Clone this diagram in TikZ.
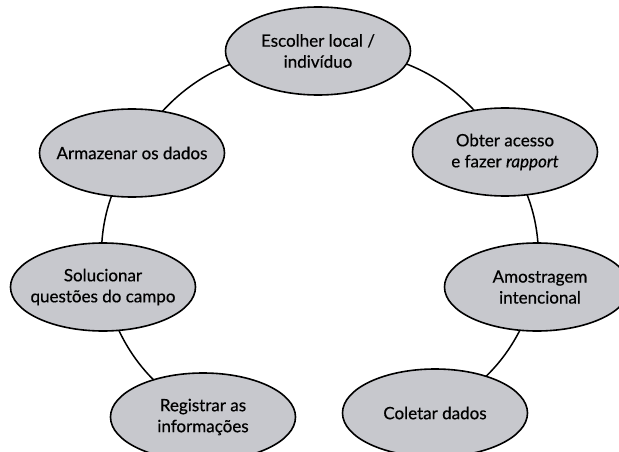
\documentclass[tikz,border=0pt]{standalone}
\usepackage{fontspec}
\setmainfont{Lato}[FakeBold=0.5]
\usetikzlibrary{shapes.geometric}
\pgfdeclarelayer{bg}
\pgfsetlayers{bg,main}
\definecolor{ellfill}{RGB}{199,200,205}
\begin{document}
\begin{tikzpicture}[x=1pt,y=1pt,
  ell/.style={ellipse, draw=black, line width=1.6pt, fill=ellfill,
    minimum width=185pt, minimum height=88pt, inner sep=0pt},
  txt/.style={align=center, inner sep=0pt, font=\fontsize{17}{21}\selectfont},
  conn/.style={line width=1.5pt}]
\clip (0,0) rectangle (619,451);
\useasboundingbox (0,0) rectangle (619,451);
% ellipses
\node[ell] (esc) at (318,400) {};
\node[ell] (arm) at (132,298) {};
\node[ell] (sol) at (103,164) {};
\node[ell] (reg) at (203,34) {};
\node[ell] (col) at (435,38) {};
\node[ell] (amo) at (537,164) {};
\node[ell] (obt) at (505,299) {};
% connectors (behind the ellipses)
\begin{pgfonlayer}{bg}
\draw[conn] (esc.center) to[bend right=31] (arm.center);
\draw[conn] (arm.center) to[bend right=18] (sol.center);
\draw[conn] (sol.center) to[bend right=22] (reg.center);
\draw[conn] (col.center) to[bend right=22] (amo.center);
\draw[conn] (amo.center) to[bend right=19] (obt.center);
\draw[conn] (obt.center) to[bend right=31] (esc.center);
\end{pgfonlayer}
% texts
\node[txt] (escT) at (esc) {Escolher local /\\indivíduo};
\node[txt] (armT) at (arm) {Armazenar os dados};
\node[txt] (solT) at (sol) {Solucionar\\questões do campo};
\node[txt] (regT) at (reg) {Registrar as\\informações};
\node[txt] (colT) at (col) {Coletar dados};
\node[txt] (amoT) at (540,164) {Amostragem\\intencional};
\node[txt] (obtT) at (obt) {Obter acesso\\e fazer \textit{rapport}};
\end{tikzpicture}
\end{document}
